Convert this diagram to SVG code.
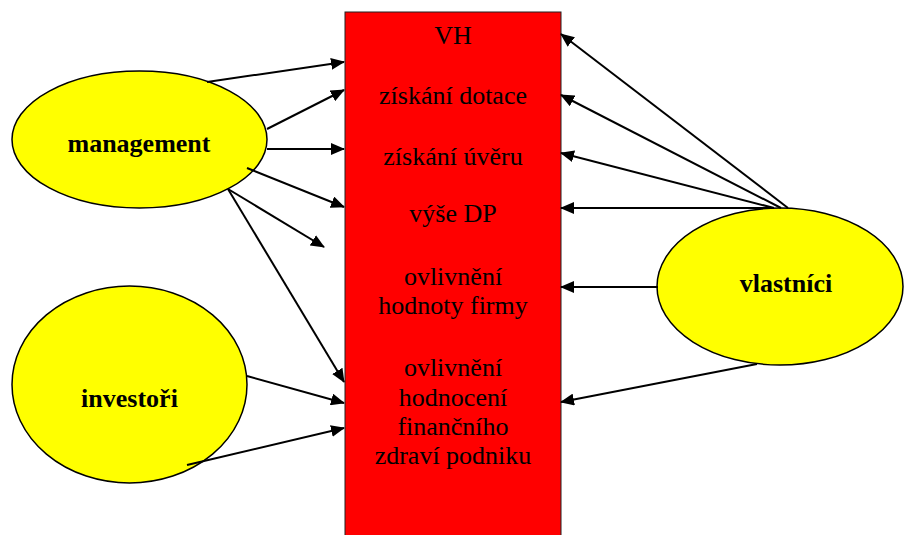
<svg xmlns="http://www.w3.org/2000/svg" width="904" height="535" viewBox="0 0 904 535">
<style>
.node-e{fill:#ffff00;stroke:#000;stroke-width:1.5}
.lbl{font-family:"Liberation Serif","Times New Roman",serif;font-weight:bold;font-size:26px;fill:#000;text-anchor:middle}
.box{fill:#ff0000;stroke:#222;stroke-width:1}
.bt{font-family:"Liberation Serif","Times New Roman",serif;font-size:26px;fill:#000;text-anchor:middle}
.c{stroke:#000;stroke-width:2;fill:none;marker-end:url(#ah)}
</style>
<defs>
<marker id="ah" viewBox="0 0 14 12" refX="13" refY="6" markerWidth="14" markerHeight="12" markerUnits="userSpaceOnUse" orient="auto">
<path d="M0,0 L14,6 L0,12 z" fill="#000"/>
</marker>
</defs>
<rect width="904" height="535" fill="#fff"/>
<g id="box">
<rect class="box" x="345" y="12" width="216" height="540"/>
<text class="bt" x="453" y="44">VH</text>
<text class="bt" x="453" y="104">získání dotace</text>
<text class="bt" x="453" y="165">získání úvěru</text>
<text class="bt" x="453" y="222">výše DP</text>
<text class="bt" x="453" y="285">ovlivnění</text>
<text class="bt" x="453" y="314">hodnoty firmy</text>
<text class="bt" x="453" y="376">ovlivnění</text>
<text class="bt" x="453" y="406">hodnocení</text>
<text class="bt" x="453" y="435">finančního</text>
<text class="bt" x="453" y="464">zdraví podniku</text>
</g>
<g id="management">
<ellipse class="node-e" cx="139.5" cy="139.5" rx="127.5" ry="68.5"/>
<text class="lbl" x="139" y="152">management</text>
</g>
<g id="investori">
<ellipse class="node-e" cx="129.5" cy="384.5" rx="117.5" ry="98.5"/>
<text class="lbl" x="129.5" y="407">investoři</text>
</g>
<g id="vlastnici">
<ellipse class="node-e" cx="780" cy="286.5" rx="123" ry="78.5"/>
<text class="lbl" x="786" y="292">vlastníci</text>
</g>
<g id="connectors">
<line class="c" x1="207" y1="82" x2="344" y2="62"/>
<line class="c" x1="267" y1="129" x2="344" y2="90"/>
<line class="c" x1="267" y1="149" x2="344" y2="149"/>
<line class="c" x1="247" y1="168" x2="344" y2="207"/>
<line class="c" x1="228" y1="189" x2="324" y2="247"/>
<line class="c" x1="228" y1="189" x2="344" y2="382"/>
<line class="c" x1="247" y1="376" x2="344" y2="403"/>
<line class="c" x1="187" y1="465" x2="344" y2="428"/>
<line class="c" x1="788" y1="208" x2="561" y2="34"/>
<line class="c" x1="781" y1="208" x2="561" y2="95"/>
<line class="c" x1="774" y1="208" x2="561" y2="153"/>
<line class="c" x1="770" y1="208" x2="561" y2="208"/>
<line class="c" x1="658" y1="287" x2="561" y2="287"/>
<line class="c" x1="757" y1="364" x2="561" y2="402"/>
</g>
</svg>
